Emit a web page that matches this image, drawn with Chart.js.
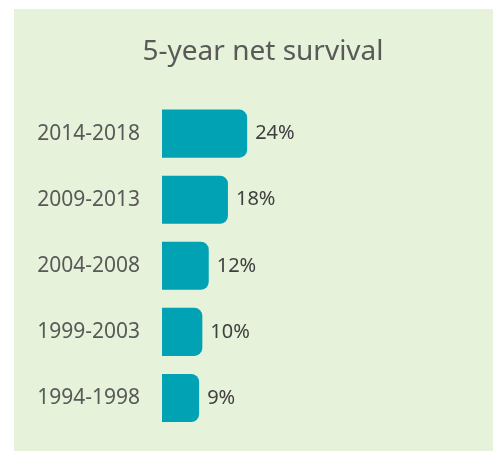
<!DOCTYPE html>
<html>
<head>
<meta charset="utf-8">
<script src="https://cdn.jsdelivr.net/npm/chart.js@4/dist/chart.umd.min.js"></script>
<style>
  html, body { margin: 0; padding: 0; background: #ffffff; }
  #panel {
    position: absolute;
    left: 14px;
    top: 9px;
    width: 479px;
    height: 442px;
    background: #e6f2d9;
  }
</style>
</head>
<body>
<div id="panel">
  <canvas id="myChart" width="479" height="442"></canvas>
</div>
<script>
const periods = ["2014-2018", "2009-2013", "2004-2008", "1999-2003", "1994-1998"];
const survival = [24, 18, 12, 10, 9];
const chartTitle = "5-year net survival";

// draws the "24%" style labels just past the end of each bar
const valueLabels = {
  id: "valueLabels",
  afterDatasetsDraw(chart) {
    const ctx = chart.ctx;
    const meta = chart.getDatasetMeta(0);
    ctx.save();
    ctx.font = "20px 'Noto Sans'";
    ctx.fillStyle = "#404040";
    ctx.textAlign = "left";
    ctx.textBaseline = "middle";
    meta.data.forEach((bar, i) => {
      ctx.fillText(survival[i] + "%", bar.x + 8, bar.y);
    });
    ctx.restore();
  },
};

function createChart() {
  const data = {
    labels: periods,
    datasets: [
      {
        label: chartTitle,
        data: survival,
        base: -2.6,
        backgroundColor: "#00a2b4",
        borderRadius: 8,
        barPercentage: 0.727,
        categoryPercentage: 1,
      },
    ],
  };

  const config = {
    type: "bar",
    data,
    options: {
      indexAxis: "y",
      responsive: false,
      animation: false,
      layout: {
        padding: { left: 19, right: 0, top: 0, bottom: 20 },
      },
      plugins: {
        legend: { display: false },
        tooltip: { enabled: false },
        title: {
          display: true,
          text: chartTitle,
          color: "#595959",
          font: { family: "'Noto Sans'", size: 28, weight: "normal" },
          padding: { top: 26, bottom: 32 },
        },
      },
      scales: {
        x: {
          display: false,
          min: -2.6,
          max: 100.8,
        },
        y: {
          grid: { display: false, drawTicks: true, tickLength: 22 },
          border: { display: false },
          ticks: {
            color: "#595959",
            font: { family: "'Noto Sans'", size: 21 },
            padding: 0,
          },
          afterFit(scale) {
            scale.width = 129;
          },
        },
      },
    },
    plugins: [valueLabels],
  };
  new Chart(document.getElementById("myChart"), config);
}

document.addEventListener("DOMContentLoaded", () => {
  createChart();
});
</script>
</body>
</html>
